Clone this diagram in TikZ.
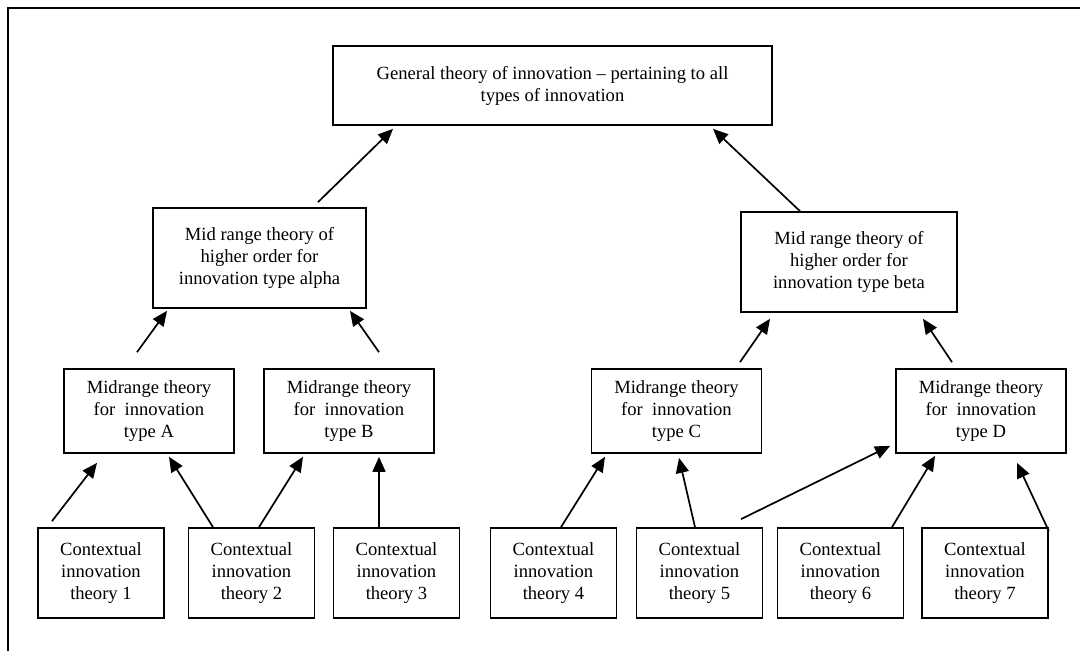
\documentclass[tikz,border=0pt]{standalone}
\usepackage{fontspec}
\setmainfont{Liberation Serif}
\usetikzlibrary{arrows.meta,positioning}

\begin{document}
\begin{tikzpicture}[x=1pt,y=-1pt,>={Triangle[length=15pt,width=13pt]},font=\fontsize{18.6}{22}\selectfont]
\tikzstyle{bx}=[draw,line width=1.7pt,inner sep=2pt,align=center]
\tikzstyle{mid}=[bx,minimum width=170pt,minimum height=84pt]
\tikzstyle{ctx}=[bx,minimum width=126pt,minimum height=90pt]
\tikzstyle{arr}=[->,line width=1.7pt]
\useasboundingbox (0,0) rectangle (1080,651);
% frame
\draw[line width=2.6pt] (1080,8) -- (8,8) -- (8,651);
% levels
\node[bx,minimum width=439pt,minimum height=79pt] (gen) at (552.5,85.5) {General theory of innovation -- pertaining to all\\ types of innovation};
\node[bx,minimum width=213pt,minimum height=100pt] (alpha) at (259.5,258) {Mid range theory of\\ higher order for\\ innovation type alpha};
\node[bx,minimum width=216pt,minimum height=100pt] (beta) at (849,262) {Mid range theory of\\ higher order for\\ innovation type beta};
\node[mid] (mA) at (149,411) {Midrange theory\\ for~ innovation\\ type A};
\node[mid] (mB) at (349,411) {Midrange theory\\ for~ innovation\\ type B};
\node[mid] (mC) at (676.5,411) {Midrange theory\\ for~ innovation\\ type C};
\node[mid] (mD) at (981,411) {Midrange theory\\ for~ innovation\\ type D};
\node[ctx] (c1) at (101,573) {Contextual\\ innovation\\ theory 1};
\node[ctx] (c2) at (251.5,573) {Contextual\\ innovation\\ theory 2};
\node[ctx] (c3) at (396.5,573) {Contextual\\ innovation\\ theory 3};
\node[ctx] (c4) at (553.5,573) {Contextual\\ innovation\\ theory 4};
\node[ctx] (c5) at (699.5,573) {Contextual\\ innovation\\ theory 5};
\node[ctx] (c6) at (840.5,573) {Contextual\\ innovation\\ theory 6};
\node[ctx] (c7) at (985,573) {Contextual\\ innovation\\ theory 7};
% contextual -> midrange
\draw[arr] ([xshift=-49pt,yshift=6pt]c1.north) -- ([xshift=-52pt,yshift=-9pt]mA.south);
\draw[arr] ([xshift=-38.5pt]c2.north) -- ([xshift=20pt,yshift=-3pt]mA.south);
\draw[arr] ([xshift=7.5pt]c2.north) -- ([xshift=-46pt,yshift=-3pt]mB.south);
\draw[arr] ([xshift=-17.5pt]c3.north) -- ([xshift=30pt,yshift=-3pt]mB.south);
\draw[arr] ([xshift=7.5pt]c4.north) -- ([xshift=-71.5pt,yshift=-3pt]mC.south);
\draw[arr] ([xshift=-4.5pt]c5.north) -- ([xshift=2.5pt,yshift=-4pt]mC.south);
\draw[arr] ([xshift=41.5pt,yshift=8pt]c5.north) -- ([xshift=-5pt,yshift=8pt]mD.south west);
\draw[arr] ([xshift=51.5pt]c6.north) -- ([xshift=-46pt,yshift=-2pt]mD.south);
\draw[arr] ([yshift=-4pt]c7.north east) -- ([xshift=36pt,yshift=-9pt]mD.south);
% midrange -> higher order
\draw[arr] ([xshift=-12pt,yshift=16pt]mA.north) -- ([xshift=-92.5pt,yshift=-2pt]alpha.south);
\draw[arr] ([xshift=30pt,yshift=16pt]mB.north) -- ([xshift=90.5pt,yshift=-2pt]alpha.south);
\draw[arr] ([xshift=63.5pt,yshift=6pt]mC.north) -- ([xshift=-79pt,yshift=-6pt]beta.south);
\draw[arr] ([xshift=-29pt,yshift=6pt]mD.north) -- ([xshift=74pt,yshift=-6pt]beta.south);
% higher order -> general
\draw[arr] ([xshift=58.5pt,yshift=5pt]alpha.north) -- ([xshift=-159.5pt,yshift=-3pt]gen.south);
\draw[arr] ([xshift=-49pt]beta.north) -- ([xshift=160.5pt,yshift=-3pt]gen.south);
\end{tikzpicture}
\end{document}
